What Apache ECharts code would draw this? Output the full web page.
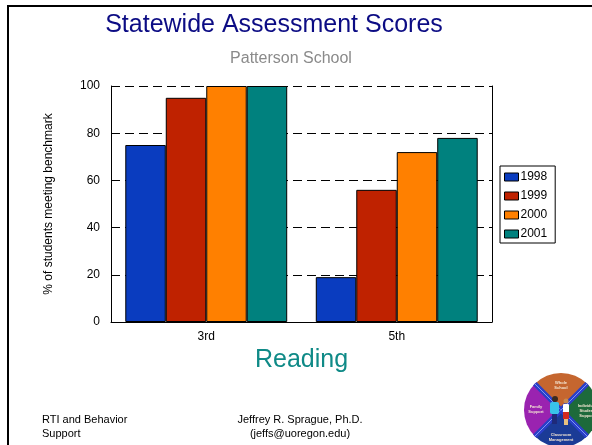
<!DOCTYPE html>
<html>
<head>
<meta charset="utf-8">
<script src="https://cdn.jsdelivr.net/npm/echarts@6/dist/echarts.min.js"></script>
<style>
  html, body { margin: 0; padding: 0; background: #fff; }
  #chart { width: 592px; height: 445px; }
</style>
</head>
<body>
<div id="chart"></div>
<script>
// Grade levels on the x axis
const categories = ['3rd', '5th'];
// School years shown as series
const years = ['1998', '1999', '2000', '2001'];
// % of students meeting the reading benchmark, per grade
const scores1998 = [75, 19];
const scores1999 = [95, 56];
const scores2000 = [100, 72];
const scores2001 = [100, 78];
// Value axis range and step
const yMin = 0;
const yMax = 100;
const yStep = 20;

const seriesValues = [scores1998, scores1999, scores2000, scores2001];
const seriesColors = ['#0a3cbf', '#bf2200', '#ff8000', '#00817e'];
const FONT = '"Liberation Sans", Arial, sans-serif';

const chart = echarts.init(document.getElementById('chart'), null, { renderer: 'canvas' });

// Small "wheel" emblem in the lower-right corner
const wheelR = 37;
const quadrants = [
  { a0: -3 * Math.PI / 4, a1: -Math.PI / 4, color: '#c5662f' },
  { a0: -Math.PI / 4, a1: Math.PI / 4, color: '#1d6a3b' },
  { a0: Math.PI / 4, a1: 3 * Math.PI / 4, color: '#1b3b96' },
  { a0: 3 * Math.PI / 4, a1: 5 * Math.PI / 4, color: '#9a23b0' }
];
const wheelChildren = quadrants.map(q => ({
  type: 'sector',
  shape: { cx: 0, cy: 0, r: wheelR, r0: 0, startAngle: q.a0, endAngle: q.a1 },
  style: { fill: q.color }
}));
[Math.PI / 4, 3 * Math.PI / 4, 5 * Math.PI / 4, 7 * Math.PI / 4].forEach(a => {
  const x = Math.cos(a) * wheelR, y = Math.sin(a) * wheelR;
  wheelChildren.push({ type: 'line', shape: { x1: 0, y1: 0, x2: x, y2: y }, style: { stroke: '#2a3fc8', lineWidth: 5 } });
  wheelChildren.push({ type: 'line', shape: { x1: 0, y1: 0, x2: x, y2: y }, style: { stroke: '#7d96f2', lineWidth: 1 } });
});
const wheelLabel = (text, x, y) => ({
  type: 'text', x: x, y: y,
  style: { text: text, fill: '#f4e6d2', font: 'bold 4px ' + FONT, align: 'center', verticalAlign: 'middle', lineHeight: 5 }
});
wheelChildren.push(
  wheelLabel('Whole\nSchool', 0, -25),
  wheelLabel('Individual\nStudent\nSupport', 26, 1),
  wheelLabel('Classroom\nManagement', 0, 27),
  wheelLabel('Family\nSupport', -25, -1),
  // two small figures in the middle
  { type: 'circle', shape: { cx: -6, cy: -11, r: 3 }, style: { fill: '#3a2a20' } },
  { type: 'rect', shape: { x: -11, y: -8, width: 9, height: 12, r: 2 }, style: { fill: '#39c3ea' } },
  { type: 'rect', shape: { x: -9, y: 4, width: 5, height: 10 }, style: { fill: '#1e2a7a' } },
  { type: 'circle', shape: { cx: 5, cy: -9, r: 2.5 }, style: { fill: '#c88a50' } },
  { type: 'rect', shape: { x: 2, y: -6, width: 6, height: 9, r: 1 }, style: { fill: '#ffffff' } },
  { type: 'rect', shape: { x: 2, y: 2, width: 6, height: 7 }, style: { fill: '#d42a20' } },
  { type: 'rect', shape: { x: 3, y: 9, width: 4, height: 6 }, style: { fill: '#e8c080' } }
);

const option = {
  backgroundColor: '#ffffff',
  animation: false,
  textStyle: { fontFamily: FONT },
  grid: { left: 111, right: 100, top: 86, bottom: 123, containLabel: false },
  legend: {
    orient: 'vertical',
    left: 500,
    top: 166,
    data: years,
    icon: 'rect',
    itemWidth: 14,
    itemHeight: 8,
    itemGap: 7,
    padding: [5, 8, 3, 4],
    borderColor: '#000',
    borderWidth: 1,
    backgroundColor: '#fff',
    itemStyle: { borderColor: '#000', borderWidth: 1 },
    textStyle: { fontSize: 12, color: '#000', fontFamily: FONT, padding: [0, 0, 0, -3] }
  },
  xAxis: {
    type: 'category',
    data: categories,
    name: 'Reading',
    nameLocation: 'middle',
    nameGap: 22,
    nameTextStyle: { fontSize: 25, color: '#0f8a87', fontFamily: FONT },
    axisLine: { show: true, lineStyle: { color: '#000', width: 1 } },
    axisTick: { show: false },
    axisLabel: { fontSize: 12, color: '#000', margin: 9, fontFamily: FONT }
  },
  yAxis: [
    {
      type: 'value',
      min: yMin,
      max: yMax,
      interval: yStep,
      name: '% of students meeting benchmark',
      nameLocation: 'middle',
      nameGap: 56,
      nameTextStyle: { fontSize: 12, color: '#000', fontFamily: FONT },
      axisLine: { show: true, lineStyle: { color: '#000', width: 1 } },
      axisTick: { show: false },
      axisLabel: { fontSize: 12, color: '#000', margin: 11, fontFamily: FONT },
      splitLine: { show: true, lineStyle: { color: '#000', width: 1, type: [9, 5] } }
    },
    {
      type: 'value',
      position: 'right',
      min: yMin,
      max: yMax,
      interval: yStep,
      axisLine: { show: true, lineStyle: { color: '#000', width: 1 } },
      axisTick: { show: false },
      axisLabel: { show: false },
      splitLine: { show: false }
    }
  ],
  series: years.map((y, i) => ({
    name: y,
    type: 'bar',
    yAxisIndex: 0,
    data: seriesValues[i],
    barGap: '0%',
    barCategoryGap: '15%',
    itemStyle: { color: seriesColors[i], borderColor: '#000', borderWidth: 1 }
  })),
  graphic: [
    // slide frame
    { type: 'rect', shape: { x: 7, y: 5, width: 2, height: 440 }, style: { fill: '#000' } },
    { type: 'rect', shape: { x: 7, y: 5, width: 585, height: 2 }, style: { fill: '#000' } },
    // headings
    { type: 'text', x: 274, y: 25, style: { text: 'Statewide Assessment Scores', font: '25px ' + FONT, fill: '#0c0c84', align: 'center', verticalAlign: 'middle' } },
    { type: 'text', x: 291, y: 59, style: { text: 'Patterson School', font: '16px ' + FONT, fill: '#8a8a8a', align: 'center', verticalAlign: 'middle' } },
    // footer
    { type: 'text', x: 42, y: 420, style: { text: 'RTI and Behavior', font: '11px ' + FONT, fill: '#000', align: 'left', verticalAlign: 'middle' } },
    { type: 'text', x: 42, y: 433.5, style: { text: 'Support', font: '11px ' + FONT, fill: '#000', align: 'left', verticalAlign: 'middle' } },
    { type: 'text', x: 300, y: 420, style: { text: 'Jeffrey R. Sprague, Ph.D.', font: '11px ' + FONT, fill: '#000', align: 'center', verticalAlign: 'middle' } },
    { type: 'text', x: 300, y: 433.5, style: { text: '(jeffs@uoregon.edu)', font: '11px ' + FONT, fill: '#000', align: 'center', verticalAlign: 'middle' } },
    // emblem
    { type: 'group', x: 561, y: 410, children: wheelChildren }
  ]
};

chart.setOption(option);
</script>
</body>
</html>
